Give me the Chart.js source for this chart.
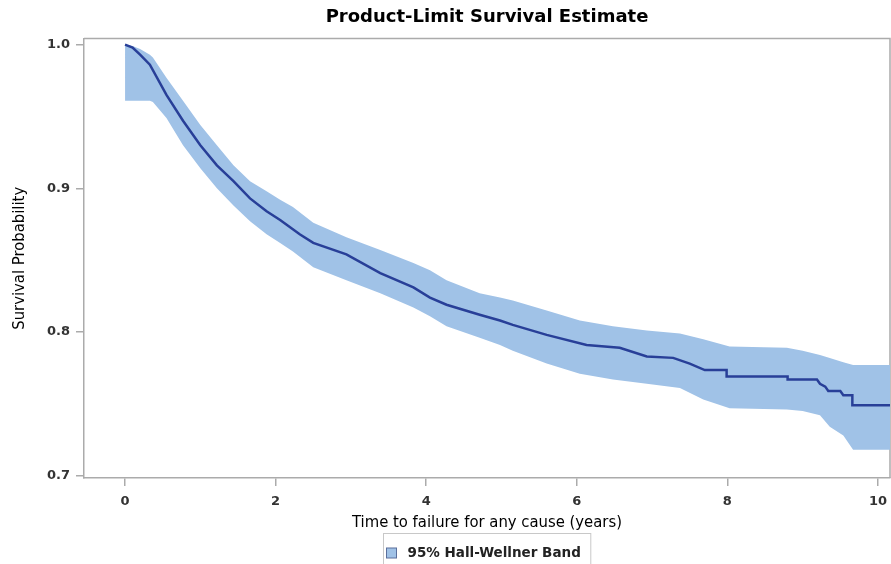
<!DOCTYPE html>
<html>
<head>
<meta charset="utf-8">
<script src="https://cdn.jsdelivr.net/npm/chart.js@4.4.1/dist/chart.umd.min.js"></script>
<style>
  body { margin: 0; background: #fff; }
  canvas { display: block; }
</style>
</head>
<body>
<canvas id="survivalChart" width="891" height="564"></canvas>
<script>
// Kaplan-Meier curve
const curveTime = [0, 0.1, 0.2, 0.33, 0.55, 0.77, 1.0, 1.22, 1.44, 1.66, 1.88, 2.06, 2.32, 2.5, 2.94, 3.39, 3.83, 4.05, 4.27, 4.71, 4.98, 5.15, 5.6, 6.13, 6.57, 6.93, 7.28, 7.5, 7.7, 7.99, 7.99, 8.8, 8.8, 9.19, 9.23, 9.3, 9.34, 9.5, 9.54, 9.66, 9.66, 10.2];
const curveSurv = [1.0, 0.998, 0.993, 0.986, 0.965, 0.947, 0.930, 0.916, 0.905, 0.893, 0.884, 0.878, 0.868, 0.862, 0.854, 0.841, 0.831, 0.824, 0.819, 0.812, 0.808, 0.805, 0.798, 0.791, 0.789, 0.783, 0.782, 0.778, 0.7735, 0.7735, 0.769, 0.769, 0.767, 0.767, 0.764, 0.762, 0.759, 0.759, 0.756, 0.756, 0.749, 0.749];

// Hall-Wellner band
const bandTime = [0, 0.1, 0.2, 0.33, 0.37, 0.55, 0.77, 1.0, 1.22, 1.44, 1.66, 1.88, 2.06, 2.23, 2.5, 2.94, 3.39, 3.83, 4.05, 4.27, 4.71, 4.98, 5.15, 5.6, 6.04, 6.48, 6.93, 7.37, 7.68, 8.03, 8.79, 9.0, 9.23, 9.36, 9.54, 9.67, 10.2];
const bandUpper = [1.0, 0.999, 0.997, 0.993, 0.991, 0.977, 0.961, 0.944, 0.930, 0.916, 0.905, 0.898, 0.892, 0.887, 0.876, 0.866, 0.857, 0.848, 0.843, 0.836, 0.827, 0.824, 0.822, 0.815, 0.808, 0.804, 0.801, 0.799, 0.795, 0.790, 0.789, 0.787, 0.784, 0.782, 0.779, 0.777, 0.777];
const bandLower = [0.961, 0.961, 0.961, 0.961, 0.960, 0.949, 0.930, 0.914, 0.900, 0.888, 0.877, 0.868, 0.862, 0.856, 0.845, 0.836, 0.827, 0.817, 0.811, 0.804, 0.796, 0.791, 0.787, 0.778, 0.771, 0.767, 0.764, 0.761, 0.753, 0.747, 0.746, 0.745, 0.742, 0.734, 0.728, 0.718, 0.718];

const xTicks = [0, 2, 4, 6, 8, 10];
const yTicks = [0.7, 0.8, 0.9, 1.0];
const legendLabel = "95% Hall-Wellner Band";

const bandColor = "#a0c2e7";
const lineColor = "#283f98";
const axisColor = "#ababab";
const tickFont = { family: "DejaVu Sans", size: 13, weight: "bold" };
const narrowFont = "Liberation Sans Narrow, DejaVu Sans Condensed, sans-serif";

const toPoints = (xs, ys) => xs.map((x, i) => ({ x: x, y: ys[i] }));

// gray frame on the top and right of the plot
const framePlugin = {
  id: "frame",
  beforeDatasetsDraw(chart) {
    const a = chart.chartArea, ctx = chart.ctx;
    ctx.save();
    ctx.strokeStyle = axisColor;
    ctx.lineWidth = 1.5;
    ctx.beginPath();
    ctx.moveTo(a.left, a.top);
    ctx.lineTo(a.right, a.top);
    ctx.lineTo(a.right, a.bottom);
    ctx.stroke();
    ctx.restore();
  }
};

// boxed legend under the axis title
const legendPlugin = {
  id: "bandLegend",
  afterDraw(chart) {
    const a = chart.chartArea, ctx = chart.ctx;
    ctx.save();
    ctx.font = "bold 13.5px DejaVu Sans";
    const tw = ctx.measureText(legendLabel).width;
    const w = tw + 34;
    const cx = (a.left + a.right) / 2;
    const left = Math.round(cx - w / 2) + 0.5;
    const cy = 553;
    ctx.strokeStyle = "#c8c8c8";
    ctx.lineWidth = 1;
    ctx.strokeRect(left, 533.5, w, 40);
    ctx.fillStyle = bandColor;
    ctx.fillRect(left + 3, cy - 5, 10, 10);
    ctx.strokeStyle = "#5a6f9c";
    ctx.strokeRect(left + 3, cy - 5, 10, 10);
    ctx.fillStyle = "#222";
    ctx.textBaseline = "middle";
    ctx.fillText(legendLabel, left + 24, cy);
    ctx.restore();
  }
};

const ctx = document.getElementById("survivalChart");
const survivalChart = new Chart(ctx, {
  type: "line",
  data: {
    datasets: [
      {
        label: "Survival",
        data: toPoints(curveTime, curveSurv),
        borderColor: lineColor,
        borderWidth: 2.5,
        pointRadius: 0,
        tension: 0,
        fill: false
      },
      {
        label: "upper",
        data: toPoints(bandTime, bandUpper),
        borderWidth: 0,
        pointRadius: 0,
        fill: false
      },
      {
        label: legendLabel,
        data: toPoints(bandTime, bandLower),
        borderWidth: 0,
        pointRadius: 0,
        backgroundColor: bandColor,
        fill: "-1"
      }
    ]
  },
  options: {
    responsive: false,
    animation: false,
    layout: { padding: { left: 0, right: 1, top: 0, bottom: 0 } },
    plugins: {
      legend: { display: false },
      tooltip: { enabled: false },
      title: {
        display: true,
        text: "Product-Limit Survival Estimate",
        fullSize: false,
        color: "#000",
        font: { family: "DejaVu Sans", size: 18, weight: "bold" },
        padding: { top: 7, bottom: 10 }
      }
    },
    scales: {
      x: {
        type: "linear",
        min: -0.545,
        max: 10.16,
        afterFit: s => { s.height = 86; s.paddingLeft = 0; s.paddingRight = 0; },
        afterBuildTicks: s => { s.ticks = xTicks.map(v => ({ value: v })); },
        ticks: { font: tickFont, color: "#333", padding: 8, maxRotation: 0 },
        grid: { drawOnChartArea: false, tickLength: 8, color: axisColor, lineWidth: 1.5 },
        border: { color: axisColor, width: 1.5 },
        title: {
          display: true,
          text: "Time to failure for any cause (years)",
          color: "#000",
          font: { family: narrowFont, size: 16.5 },
          padding: { top: 0, bottom: 31 }
        }
      },
      y: {
        min: 0.6984,
        max: 1.0042,
        afterFit: s => { s.width = 84; s.paddingTop = 0; s.paddingBottom = 0; },
        afterBuildTicks: s => { s.ticks = yTicks.map(v => ({ value: v })); },
        ticks: { font: tickFont, color: "#333", padding: 6, callback: v => v.toFixed(1) },
        grid: { drawOnChartArea: false, tickLength: 8, color: axisColor, lineWidth: 1.5 },
        border: { color: axisColor, width: 1.5 },
        title: {
          display: true,
          text: "Survival Probability",
          color: "#000",
          font: { family: narrowFont, size: 16.5 },
          padding: { top: 10, bottom: 0 }
        }
      }
    }
  },
  plugins: [framePlugin, legendPlugin]
});
</script>
</body>
</html>
